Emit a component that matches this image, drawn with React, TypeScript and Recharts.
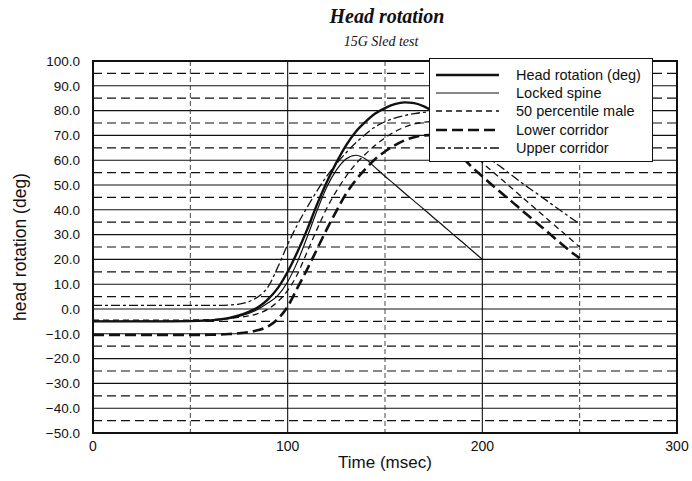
import React from 'react';
import { LineChart, Line, XAxis, YAxis, CartesianGrid, Legend, ReferenceArea, Label } from 'recharts';

const TIME = [0, 20, 40, 60, 65, 70, 75, 80, 85, 90, 95, 100, 105, 110, 115, 120, 125, 130, 135, 140, 145, 150, 155, 160, 165, 170, 175, 180, 185, 190, 195, 200, 205, 210, 215, 220, 225, 230, 235, 240, 245, 250];

const HEAD_ROTATION = [-5, -5, -5, -4.6, -4.2, -3.6, -2.6, -1.2, 0.8, 4, 8.5, 15, 23, 32, 42, 51, 59, 66, 71.5, 75.5, 78.8, 81, 82.6, 83.3, 83, 81.7, 79.5, 76.5, null, null, null, null, null, null, null, null, null, null, null, null, null, null];

const LOCKED_SPINE = [-5, -5, -5, -4.7, -4.4, -3.9, -3, -1.8, 0, 2.5, 5.5, 11, 19, 29, 39.5, 49, 56, 60.5, 62, 60.5, 57, 53.5, 50.2, 46.8, 43.5, 40.2, 36.8, 33.5, 30.1, 26.8, 23.4, 20, null, null, null, null, null, null, null, null, null, null];

const PERCENTILE_50 = [-4.5, -4.5, -4.5, -4.3, -4.1, -3.8, -3.4, -2.8, -1.8, 0, 3, 7.5, 14, 23, 32, 40.5, 47.5, 53.5, 58.5, 62.5, 66, 69, 71.5, 73.3, 74.6, 75.3, 75.6, 75, 72.5, 68, 63.5, 59, 55.6, 52.2, 48.8, 45.4, 42, 38.6, 35.2, 31.8, 28.4, 25];

const LOWER_CORRIDOR = [-10.5, -10.5, -10.5, -10.4, -10.3, -10.1, -9.8, -9.3, -8.5, -7, -4, 1, 8.5, 16, 24, 32, 39.5, 46.5, 52, 56.5, 60.5, 63.5, 66, 68, 69.3, 70, 70.2, 69, 65.5, 61, 57, 53.5, 50, 46.7, 43.4, 40, 36.7, 33.4, 30, 26.7, 23.4, 20.5];

const UPPER_CORRIDOR = [1.5, 1.5, 1.5, 1.5, 1.5, 1.6, 2, 3, 5, 9, 17, 26, 34, 41, 47.5, 53.5, 58.5, 63, 67, 70.5, 73.5, 75.5, 77, 78, 78.8, 79.3, 79.5, 79.2, 77.5, 73, 68.5, 64.5, 60, 57, 54, 51, 48.2, 45.5, 42.6, 39.8, 37, 34.3];

const X_TICKS = [0, 100, 200, 300];
const Y_TICKS = [-50, -40, -30, -20, -10, 0, 10, 20, 30, 40, 50, 60, 70, 80, 90, 100];
const GRID_MAJOR_Y = [-40, -30, -20, -10, 0, 10, 20, 30, 40, 50, 60, 70, 80, 90];
const GRID_MINOR_Y = [-45, -35, -25, -15, -5, 5, 15, 25, 35, 45, 55, 65, 75, 85, 95];
const GRID_MAJOR_X = [100, 200];
const GRID_MINOR_X = [50, 150, 250];

const SERIES = [
  { key: 'head', name: 'Head rotation (deg)', values: HEAD_ROTATION, width: 2.4, dash: undefined as string | undefined },
  { key: 'locked', name: 'Locked spine', values: LOCKED_SPINE, width: 1.2, dash: undefined as string | undefined },
  { key: 'p50', name: '50 percentile male', values: PERCENTILE_50, width: 1.3, dash: '6 4' },
  { key: 'lower', name: 'Lower corridor', values: LOWER_CORRIDOR, width: 2.6, dash: '11 5' },
  { key: 'upper', name: 'Upper corridor', values: UPPER_CORRIDOR, width: 1.3, dash: '9 3 3 3' },
];

const data = TIME.map((t, i) => {
  const row: Record<string, number | null> = { t };
  SERIES.forEach((s) => {
    row[s.key] = s.values[i];
  });
  return row;
});

const SANS = "'Liberation Sans', Arial, Helvetica, sans-serif";
const SERIF = "'Liberation Serif', 'Times New Roman', serif";

const fmtY = (v: number) => {
  const s = Math.abs(v).toFixed(1);
  return v < 0 ? '\u2212' + s : s;
};

const XLabel = (props: any) => {
  const vb = props.viewBox || { x: 93, y: 433, width: 584, height: 48 };
  const cx = vb.x + vb.width / 2;
  return (
    <text x={cx} y={vb.y + 29} textAnchor="middle" dominantBaseline="central" fontSize={17} fontFamily={SANS} fill="#111">
      Time (msec)
    </text>
  );
};

const YLabel = (props: any) => {
  const vb = props.viewBox || { x: 0, y: 61, width: 93, height: 372 };
  const cx = vb.x + 20;
  const cy = vb.y + vb.height / 2;
  return (
    <text
      x={cx}
      y={cy}
      transform={`rotate(-90 ${cx} ${cy})`}
      textAnchor="middle"
      dominantBaseline="central"
      fontSize={17.5}
      fontFamily={SANS}
      fill="#111"
    >
      head rotation (deg)
    </text>
  );
};

const LegendBox = () => (
  <div
    style={{
      width: 224,
      height: 104,
      boxSizing: 'border-box',
      border: '1.6px solid #111',
      background: '#fff',
      padding: '7px 0 0 6px',
    }}
  >
    {SERIES.map((s) => (
      <div key={s.key} style={{ display: 'flex', alignItems: 'center', height: 18.2 }}>
        <svg width={63} height={12} style={{ display: 'block' }}>
          <line x1={0} x2={63} y1={6} y2={6} stroke="#111" strokeWidth={s.width} strokeDasharray={s.dash} />
        </svg>
        <span style={{ marginLeft: 17, fontSize: 14.5, fontFamily: SANS, color: '#111', whiteSpace: 'nowrap', lineHeight: '18px' }}>
          {s.name}
        </span>
      </div>
    ))}
  </div>
);

export default function App() {
  return (
    <div style={{ position: 'absolute', left: 0, top: 0, width: 692, height: 481, background: '#fff', overflow: 'hidden' }}>
      <div
        style={{
          position: 'absolute',
          left: 0,
          width: 774,
          top: 4,
          textAlign: 'center',
          fontFamily: SERIF,
          fontWeight: 'bold',
          fontStyle: 'italic',
          fontSize: 20,
          lineHeight: '24px',
          color: '#111',
        }}
      >
        Head rotation
      </div>
      <div
        style={{
          position: 'absolute',
          left: 0,
          width: 762,
          top: 33,
          textAlign: 'center',
          fontFamily: SERIF,
          fontStyle: 'italic',
          fontSize: 14,
          lineHeight: '18px',
          color: '#111',
        }}
      >
        15G Sled test
      </div>
      <div style={{ position: 'absolute', left: 0, top: 0 }}>
        <LineChart width={692} height={481} data={data} margin={{ top: 61, right: 15, bottom: 0, left: 0 }}>
          <CartesianGrid horizontalValues={GRID_MAJOR_Y} verticalValues={GRID_MAJOR_X} stroke="#111" strokeWidth={1.1} />
          <CartesianGrid horizontalValues={GRID_MINOR_Y} vertical={false} stroke="#111" strokeWidth={1.2} strokeDasharray="9 5" />
          <CartesianGrid verticalValues={GRID_MINOR_X} horizontal={false} stroke="#333" strokeWidth={0.9} strokeDasharray="5 3" />
          <XAxis
            dataKey="t"
            type="number"
            domain={[0, 300]}
            ticks={X_TICKS}
            tickLine={false}
            axisLine={false}
            tickSize={4}
            tickMargin={4}
            height={48}
            interval={0}
            tick={{ fill: '#111', fontSize: 14, fontFamily: SANS }}
          >
            <Label content={XLabel} />
          </XAxis>
          <YAxis
            type="number"
            domain={[-50, 100]}
            ticks={Y_TICKS}
            interval={0}
            width={93}
            tickLine={false}
            axisLine={false}
            tickSize={5}
            tickMargin={8}
            tickFormatter={fmtY}
            tick={{ fill: '#111', fontSize: 13.5, fontFamily: SANS }}
          >
            <Label content={YLabel} />
          </YAxis>
          <ReferenceArea x1={0} x2={300} y1={-50} y2={100} fill="none" stroke="#111" strokeWidth={2} />
          {SERIES.map((s) => (
            <Line
              key={s.key}
              dataKey={s.key}
              name={s.name}
              type="monotone"
              stroke="#111"
              strokeWidth={s.width}
              strokeDasharray={s.dash}
              dot={false}
              activeDot={false}
              isAnimationActive={false}
            />
          ))}
          <Legend
            content={LegendBox}
            layout="vertical"
            align="center"
            verticalAlign="middle"
            wrapperStyle={{ left: 429, top: 58, width: 224, height: 104 }}
          />
        </LineChart>
      </div>
    </div>
  );
}
